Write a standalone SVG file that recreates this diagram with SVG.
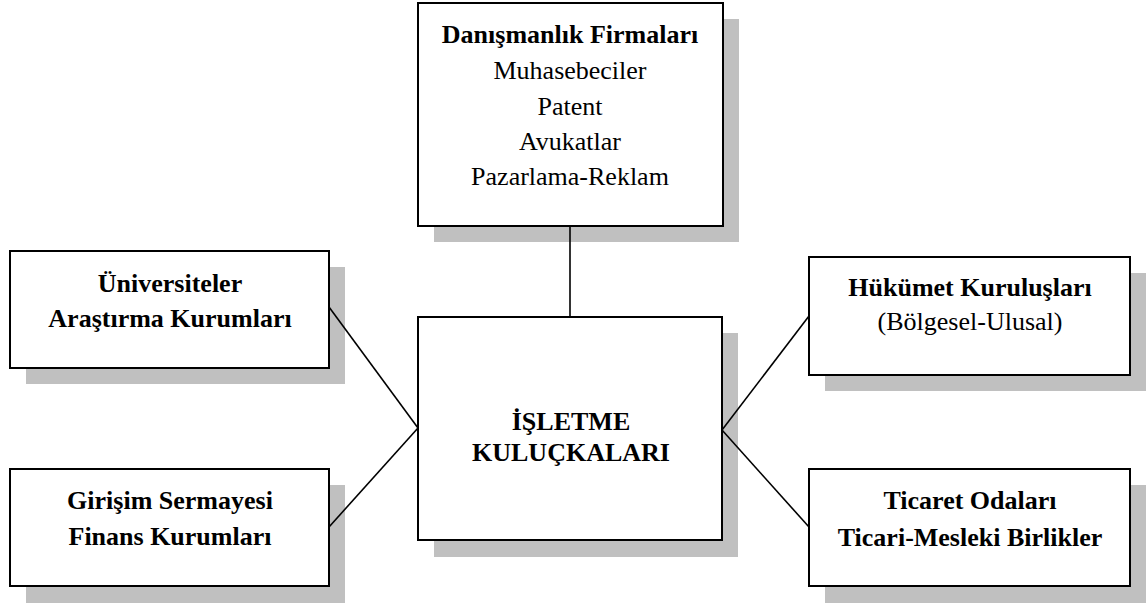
<svg xmlns="http://www.w3.org/2000/svg" width="1148" height="603" viewBox="0 0 1148 603" font-family="Liberation Serif, Times New Roman, serif">
  <style>
    .shadow { fill: #c0c0c0; }
    .box { fill: #ffffff; stroke: #000000; stroke-width: 2; }
    .t { font-size: 26px; text-anchor: middle; fill: #000000; }
    .b { font-weight: bold; }
    .link { stroke: #000000; stroke-width: 1.6; fill: none; }
  </style>
  <rect width="1148" height="603" fill="#ffffff"/>

  <!-- consulting firms (top) -->
  <g id="danismanlik">
    <rect class="shadow" x="434" y="19" width="305" height="223"/>
    <rect class="box" x="418" y="3" width="305" height="223"/>
    <text class="t b" x="570" y="43">Danışmanlık Firmaları</text>
    <text class="t" x="570" y="79">Muhasebeciler</text>
    <text class="t" x="570" y="115">Patent</text>
    <text class="t" x="570" y="150">Avukatlar</text>
    <text class="t" x="570" y="185">Pazarlama-Reklam</text>
  </g>

  <!-- universities (left top) -->
  <g id="universiteler">
    <rect class="shadow" x="26" y="267" width="319" height="117"/>
    <rect class="box" x="10" y="251" width="319" height="117"/>
    <text class="t b" x="170" y="292">Üniversiteler</text>
    <text class="t b" x="170" y="327">Araştırma Kurumları</text>
  </g>

  <!-- venture capital (left bottom) -->
  <g id="girisim">
    <rect class="shadow" x="26" y="485" width="319" height="118"/>
    <rect class="box" x="10" y="469" width="319" height="117"/>
    <text class="t b" x="170" y="509">Girişim Sermayesi</text>
    <text class="t b" x="170" y="545">Finans Kurumları</text>
  </g>

  <!-- business incubators (centre) -->
  <g id="kulucka">
    <rect class="shadow" x="434" y="333" width="304" height="224"/>
    <rect class="box" x="418" y="317" width="304" height="223"/>
    <text class="t b" x="571" y="430">İŞLETME</text>
    <text class="t b" x="571" y="461">KULUÇKALARI</text>
  </g>

  <!-- government bodies (right top) -->
  <g id="hukumet">
    <rect class="shadow" x="825" y="273" width="321" height="118"/>
    <rect class="box" x="809" y="257" width="321" height="118"/>
    <text class="t b" x="970" y="296">Hükümet Kuruluşları</text>
    <text class="t" x="970" y="330">(Bölgesel-Ulusal)</text>
  </g>

  <!-- chambers of commerce (right bottom) -->
  <g id="ticaret">
    <rect class="shadow" x="825" y="485" width="321" height="118"/>
    <rect class="box" x="809" y="469" width="321" height="117"/>
    <text class="t b" x="970" y="509">Ticaret Odaları</text>
    <text class="t b" x="970" y="546">Ticari-Mesleki Birlikler</text>
  </g>

  <g id="connectors">
    <line class="link" x1="570" y1="226" x2="570" y2="317"/>
    <line class="link" x1="329" y1="307" x2="418" y2="428"/>
    <line class="link" x1="329" y1="527" x2="418" y2="428"/>
    <line class="link" x1="809" y1="316" x2="722" y2="430"/>
    <line class="link" x1="809" y1="527" x2="722" y2="430"/>
  </g>
</svg>
